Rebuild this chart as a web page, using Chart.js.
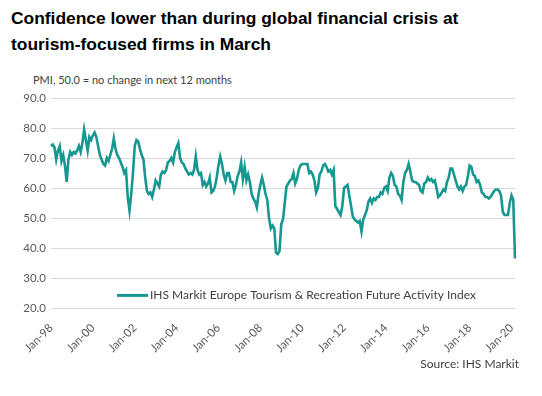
<!DOCTYPE html>
<html>
<head>
<meta charset="utf-8">
<script src="https://cdn.jsdelivr.net/npm/chart.js@4.4.0/dist/chart.umd.min.js"></script>
<style>
  html,body{margin:0;padding:0;background:#fff;}
  #wrap{position:relative;width:542px;height:396px;overflow:hidden;background:#fff;}
  #title{position:absolute;left:11px;top:5px;font-family:"Liberation Sans",Arial,sans-serif;font-weight:bold;font-size:17.4px;line-height:26px;color:#000;}
  #sub{position:absolute;left:33px;top:73px;font-family:Lato,sans-serif;font-size:11px;color:#404040;}
  #src{position:absolute;right:23px;top:356px;font-family:Lato,sans-serif;font-size:12px;color:#404040;}
  canvas{position:absolute;left:0;top:0;}
</style>
</head>
<body>
<div id="wrap">
  <div id="title">Confidence lower than during global financial crisis at<br>tourism-focused firms in March</div>
  <div id="sub">PMI, 50.0 = no change in next 12 months</div>
  <canvas id="c" width="542" height="396"></canvas>
  <div id="src">Source: IHS Markit</div>
</div>
<script>
// Monthly series, Jan-98 .. Mar-20
const startYear = 1998;
const seriesName = "IHS Markit Europe Tourism & Recreation Future Activity Index";
const values = [
  74,74.5,73.5,69.5,72.5,74,69,71,67.5,62,69.5,72,
  71,72,71.5,72.5,74,72,75,79.5,76,72.5,77,76,
  77.5,78.5,77,74,71,69.5,68,67.5,70,69,71,73,
  76.5,73,71,70,68.5,67,65,66,57,52.5,58,65,
  74,76,75.5,73,71,69.5,63.5,59,58,58.5,57,59.5,
  62.5,61.5,60.5,64.5,65.5,65,66,68.5,69,70,68.5,72,
  73.5,75,70,68.5,68,66.5,65.5,64.5,65,64.5,66,70.5,
  66,64.5,65,61,62,60.5,61.5,63.5,58.5,59,60.5,63.5,
  67.5,70.5,68,64.5,62.5,65,65,62,62,59,61,64,
  65.5,68.5,63,67,62.5,64.5,62,58,56.5,55.5,53.5,58,
  61,63.5,61,58,56,50,46.5,47.5,46.5,38.5,38,39,
  48,49.5,55,60.5,61.5,62.5,63,65,61.5,63,66,67.5,
  68,68,68,68,65,65.5,64.5,62.5,58.5,60,64.5,65.5,
  67.5,68,67,65.5,66,64.5,66,54,53,52,51,54,
  60,60.5,61,57.5,54,50.5,49.5,49,48.5,49,45.5,49.5,
  51,52.5,55.5,56.5,55,56.5,56,57,57,58.5,58,60,
  60.5,59,63.5,65,64,61,60.5,58,57.5,56,62,65,
  66,68,65.5,62.5,62,62,61.5,61,59,58.5,61.5,62,
  63.5,62.5,63,62,62.5,60,57,57.5,58.5,59.5,59,62,
  63.5,66.5,66.5,64.5,62.5,60.5,59.5,60.5,59,60.5,61,64,
  67.5,67,64.5,64,62,62.5,61,58.5,58,57,57,56.5,
  57,58,59,59.5,59.5,59,57.5,52,51,51,51,55,
  57.5,56,36.5
];
const tickLabels = ["Jan-98","Jan-00","Jan-02","Jan-04","Jan-06","Jan-08","Jan-10","Jan-12","Jan-14","Jan-16","Jan-18","Jan-20"];
const yTicks = [20,30,40,50,60,70,80,90];

const monthNames = ["Jan","Feb","Mar","Apr","May","Jun","Jul","Aug","Sep","Oct","Nov","Dec"];
const labels = values.map((v,i)=>{
  const y = startYear + Math.floor(i/12);
  return monthNames[i%12] + "-" + String(y%100).padStart(2,"0");
});
const showTick = new Set(tickLabels);
const teal = "#16978f";
const tickColor = "#595959";
const tickFont = {family:"Lato", size:11.5};

const legendPlugin = {
  id:"insideLegend",
  afterDraw(chart){
    const ctx = chart.ctx, ca = chart.chartArea;
    const y = chart.scales.y.getPixelForValue(24.2);
    const x0 = ca.left + 66;
    ctx.save();
    ctx.strokeStyle = teal; ctx.lineWidth = 3;
    ctx.beginPath(); ctx.moveTo(x0, y); ctx.lineTo(x0+31, y); ctx.stroke();
    ctx.fillStyle = "#404040";
    ctx.font = "12px Lato";
    ctx.textBaseline = "middle"; ctx.textAlign = "left";
    ctx.fillText(seriesName, x0+33, y);
    ctx.restore();
  }
};

new Chart(document.getElementById("c"), {
  type:"line",
  data:{labels, datasets:[{label:seriesName, data:values, borderColor:teal, borderWidth:2.6, pointRadius:0, tension:0, fill:false}]},
  options:{
    responsive:false, animation:false,
    layout:{padding:{left:0, top:98, right:27, bottom:39}},
    plugins:{legend:{display:false}, tooltip:{enabled:false}},
    scales:{
      x:{
        type:"category",
        grid:{display:false},
        border:{display:false},
        ticks:{autoSkip:false, minRotation:45, maxRotation:45, color:tickColor, font:tickFont, padding:5,
          callback(v,i){ const l = labels[i]; return showTick.has(l) ? l : null; }},
        afterFit(s){ s.height = 49; }
      },
      y:{
        min:20, max:90,
        afterBuildTicks(s){ s.ticks = yTicks.map(v=>({value:v})); },
        grid:{color:"#d9d9d9", lineWidth:1, drawTicks:false},
        border:{display:false},
        ticks:{color:tickColor, font:tickFont, padding:5, callback:v=>Number(v).toFixed(1)},
        afterFit(s){ s.width = 51; }
      }
    }
  },
  plugins:[legendPlugin]
});
</script>
</body>
</html>
